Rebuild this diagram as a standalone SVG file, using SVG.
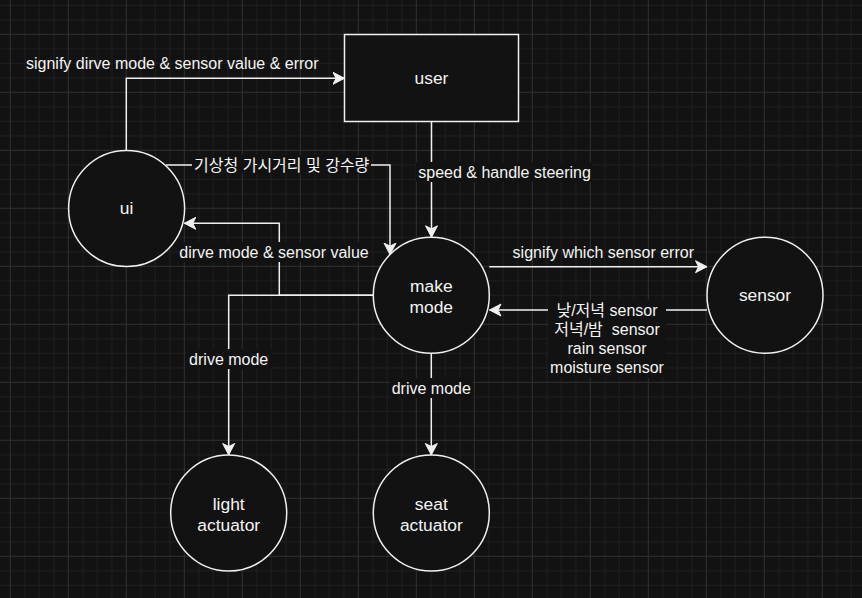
<svg xmlns="http://www.w3.org/2000/svg" width="862" height="598" viewBox="0 0 862 598">
<defs>
<pattern id="grid" patternUnits="userSpaceOnUse" x="9.8" y="33.8" width="58" height="58">
<rect x="0" y="0" width="58" height="58" fill="#121212"/>
<rect x="14.5" y="0" width="1" height="58" fill="#1f1f1f"/>
<rect x="29" y="0" width="1" height="58" fill="#1f1f1f"/>
<rect x="43.5" y="0" width="1" height="58" fill="#1f1f1f"/>
<rect x="0" y="14.5" width="58" height="1" fill="#1f1f1f"/>
<rect x="0" y="29" width="58" height="1" fill="#1f1f1f"/>
<rect x="0" y="43.5" width="58" height="1" fill="#1f1f1f"/>
<rect x="0" y="0" width="1" height="58" fill="#303030"/>
<rect x="0" y="0" width="58" height="1" fill="#303030"/>
</pattern>
<marker id="arr" viewBox="-12 -7 13 14" refX="0" refY="0" markerWidth="13" markerHeight="14" markerUnits="userSpaceOnUse" orient="auto">
<path d="M0,0 L-11.5,-6 L-8.5,0 L-11.5,6 Z" fill="#f0f0f0" stroke="#f0f0f0" stroke-width="1" stroke-linejoin="miter"/>
</marker>
<style>
.node{fill:#121212;stroke:#f0f0f0;stroke-width:1.5}
.edge{fill:none;stroke:#f0f0f0;stroke-width:1.5}
.lbg{fill:#121212}
.nt{font-family:"Liberation Sans",Arial,"Noto Sans CJK KR",sans-serif;font-size:17.4px;fill:#f4f4f4;text-anchor:middle}
.et{font-family:"Liberation Sans",Arial,"Noto Sans CJK KR",sans-serif;font-size:16px;fill:#f4f4f4;text-anchor:middle}
</style>
</defs>
<rect x="0" y="0" width="862" height="598" fill="url(#grid)"/>
<g id="connectors">
<path class="edge" d="M126.3,150.3 V78.3 H344.5" marker-end="url(#arr)"/>
<path class="edge" d="M166,165 H390 V254.6" marker-end="url(#arr)"/>
<path class="edge" d="M373.3,295.3 H279.3 V223.3 H184.3" marker-end="url(#arr)"/>
<path class="edge" d="M373.3,295.3 H228.7 V455" marker-end="url(#arr)"/>
<path class="edge" d="M431.5,121.7 V237.3" marker-end="url(#arr)"/>
<path class="edge" d="M489.3,266.7 H707" marker-end="url(#arr)"/>
<path class="edge" d="M707,310 H489.5" marker-end="url(#arr)"/>
<path class="edge" d="M431.3,353.3 V455" marker-end="url(#arr)"/>
<text class="et" x="172.3" y="69">signify dirve mode &amp; sensor value &amp; error</text>
<rect class="lbg" x="192" y="155" width="179" height="19"/>
<text class="et" x="281.7" y="170.5">기상청 가시거리 및 강수량</text>
<rect class="lbg" x="178" y="242" width="192" height="20"/>
<text class="et" x="274" y="258">dirve mode &amp; sensor value</text>
<rect class="lbg" x="416" y="162" width="176" height="20"/>
<text class="et" x="418.3" y="177.5" style="text-anchor:start">speed &amp; handle steering</text>
<text class="et" x="603.3" y="257.5">signify which sensor error</text>
<rect class="lbg" x="548" y="300" width="118" height="78"/>
<text class="et" x="607" y="315.5">낮/저녁 sensor</text>
<text class="et" x="607" y="334.7" xml:space="preserve">저녁/밤  sensor</text>
<text class="et" x="607" y="353.9">rain sensor</text>
<text class="et" x="607" y="373.1">moisture sensor</text>
<rect class="lbg" x="186" y="349" width="86" height="20"/>
<text class="et" x="228.7" y="365">drive mode</text>
<rect class="lbg" x="390" y="378" width="83" height="20"/>
<text class="et" x="431.3" y="394">drive mode</text>
</g>
<g id="user">
<rect class="node" x="344.5" y="34.5" width="174" height="87"/>
<text class="nt" x="431.5" y="84">user</text>
</g>
<g id="ui">
<circle class="node" cx="126.6" cy="208.5" r="58"/>
<text class="nt" x="126.6" y="213.5">ui</text>
</g>
<g id="make-mode">
<circle class="node" cx="431.3" cy="295.3" r="58"/>
<text class="nt" x="431.3" y="291.5">make</text>
<text class="nt" x="431.3" y="313">mode</text>
</g>
<g id="sensor">
<circle class="node" cx="765" cy="295.3" r="58"/>
<text class="nt" x="765" y="301">sensor</text>
</g>
<g id="light-actuator">
<circle class="node" cx="228.7" cy="513" r="58"/>
<text class="nt" x="228.7" y="509.5">light</text>
<text class="nt" x="228.7" y="530.5">actuator</text>
</g>
<g id="seat-actuator">
<circle class="node" cx="431.3" cy="513" r="58"/>
<text class="nt" x="431.3" y="509.5">seat</text>
<text class="nt" x="431.3" y="530.5">actuator</text>
</g>
</svg>
